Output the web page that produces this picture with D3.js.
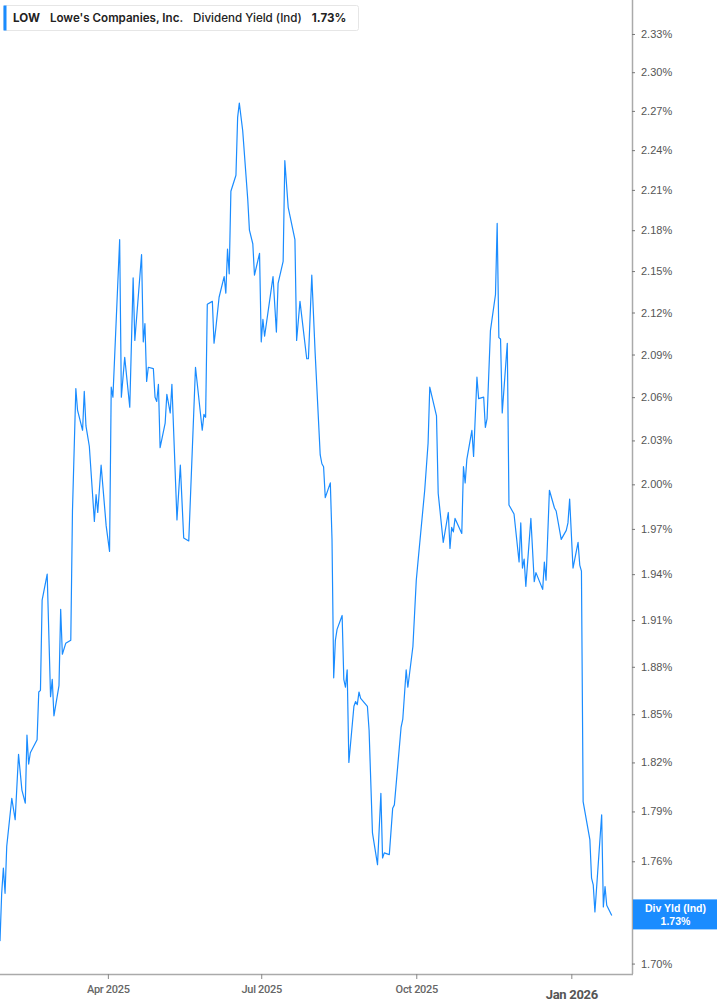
<!DOCTYPE html>
<html>
<head>
<meta charset="utf-8">
<script src="https://cdn.jsdelivr.net/npm/d3@7"></script>
<style>
  body { margin: 0; background: #fff; }
  svg { display: block; }
</style>
</head>
<body>
<script>
// LOW dividend yield (indicated), daily closes
const dates = [
  "2025-01-27","2025-01-28","2025-01-29","2025-01-30","2025-01-31","2025-02-03","2025-02-05","2025-02-07","2025-02-09","2025-02-11",
  "2025-02-12","2025-02-13","2025-02-14","2025-02-18","2025-02-19","2025-02-20","2025-02-21","2025-02-24","2025-02-26","2025-02-27",
  "2025-02-28","2025-03-03","2025-03-04","2025-03-05","2025-03-07","2025-03-10","2025-03-11","2025-03-13","2025-03-14","2025-03-17",
  "2025-03-18","2025-03-19","2025-03-21","2025-03-24","2025-03-25","2025-03-26","2025-03-28","2025-03-31","2025-04-02","2025-04-03",
  "2025-04-04","2025-04-08","2025-04-09","2025-04-11","2025-04-14","2025-04-16","2025-04-17","2025-04-21","2025-04-22","2025-04-23",
  "2025-04-24","2025-04-25","2025-04-28","2025-04-29","2025-04-30","2025-05-01","2025-05-02","2025-05-05","2025-05-06","2025-05-08",
  "2025-05-09","2025-05-12","2025-05-14","2025-05-16","2025-05-19","2025-05-23","2025-05-27","2025-05-28","2025-05-29","2025-05-30",
  "2025-06-02","2025-06-03","2025-06-04","2025-06-06","2025-06-09","2025-06-10","2025-06-11","2025-06-12","2025-06-13","2025-06-16",
  "2025-06-17","2025-06-18","2025-06-20","2025-06-23","2025-06-24","2025-06-26","2025-06-27","2025-06-30","2025-07-01","2025-07-02",
  "2025-07-03","2025-07-08","2025-07-10","2025-07-11","2025-07-14","2025-07-15","2025-07-17","2025-07-21","2025-07-22","2025-07-24",
  "2025-07-28","2025-07-29","2025-07-31","2025-08-02","2025-08-05","2025-08-06","2025-08-07","2025-08-08","2025-08-11","2025-08-12",
  "2025-08-13","2025-08-14","2025-08-15","2025-08-18","2025-08-19","2025-08-20","2025-08-21","2025-08-22","2025-08-25","2025-08-26",
  "2025-08-27","2025-08-28","2025-08-29","2025-09-02","2025-09-03","2025-09-05","2025-09-08","2025-09-10","2025-09-11","2025-09-12",
  "2025-09-15","2025-09-17","2025-09-18","2025-09-22","2025-09-23","2025-09-25","2025-09-26","2025-09-29","2025-10-01","2025-10-02",
  "2025-10-06","2025-10-08","2025-10-09","2025-10-13","2025-10-14","2025-10-15","2025-10-17","2025-10-20","2025-10-21","2025-10-22",
  "2025-10-23","2025-10-24","2025-10-28","2025-10-29","2025-10-30","2025-10-31","2025-11-03","2025-11-04","2025-11-06","2025-11-07",
  "2025-11-10","2025-11-11","2025-11-12","2025-11-14","2025-11-17","2025-11-18","2025-11-19","2025-11-20","2025-11-21","2025-11-24",
  "2025-11-25","2025-11-28","2025-12-01","2025-12-02","2025-12-03","2025-12-04","2025-12-05","2025-12-08","2025-12-10","2025-12-11",
  "2025-12-15","2025-12-16","2025-12-17","2025-12-19","2025-12-22","2025-12-23","2025-12-26","2025-12-29","2025-12-30","2025-12-31",
  "2026-01-02","2026-01-05","2026-01-06","2026-01-07","2026-01-08","2026-01-12","2026-01-13","2026-01-14","2026-01-15","2026-01-19",
  "2026-01-20","2026-01-21","2026-01-22","2026-01-25"
];

const yields = [
  1.713,1.741,1.756,1.741,1.769,1.798,1.785,1.825,1.803,1.795,
  1.837,1.819,1.826,1.834,1.864,1.865,1.923,1.940,1.861,1.872,
  1.849,1.868,1.917,1.888,1.895,1.897,1.982,2.066,2.051,2.037,
  2.064,2.040,2.026,1.975,1.993,1.981,2.013,1.972,1.955,2.067,
  2.060,2.173,2.060,2.088,2.053,2.145,2.100,2.162,2.099,2.112,
  2.071,2.081,2.080,2.060,2.057,2.069,2.025,2.042,2.062,2.049,
  2.069,1.976,2.013,1.964,1.962,2.081,2.037,2.048,2.046,2.126,
  2.128,2.098,2.108,2.131,2.146,2.134,2.166,2.148,2.209,2.221,
  2.265,2.276,2.255,2.203,2.180,2.170,2.147,2.163,2.099,2.115,
  2.103,2.146,2.106,2.141,2.157,2.232,2.197,2.173,2.100,2.128,
  2.087,2.087,2.147,2.091,2.020,2.014,2.012,1.991,2.001,1.963,
  1.873,1.897,1.904,1.913,1.872,1.867,1.878,1.820,1.855,1.858,
  1.856,1.864,1.860,1.855,1.840,1.777,1.758,1.801,1.762,1.765,
  1.764,1.792,1.794,1.842,1.847,1.878,1.867,1.893,1.936,1.948,
  1.996,2.028,2.067,2.047,1.994,1.983,1.961,1.981,1.957,1.971,
  1.968,1.977,1.967,2.012,2.001,2.017,2.037,2.019,2.074,2.059,
  2.060,2.039,2.045,2.107,2.133,2.185,2.102,2.101,2.049,2.098,
  1.986,1.980,1.948,1.974,1.944,1.950,1.932,1.977,1.935,1.941,
  1.930,1.948,1.936,1.996,1.984,1.982,1.963,1.969,1.974,1.990,
  1.944,1.961,1.946,1.942,1.796,1.773,1.750,1.746,1.730,1.788,
  1.733,1.745,1.734,1.728
];

const yTicks = [1.70, 1.73, 1.76, 1.79, 1.82, 1.85, 1.88, 1.91, 1.94, 1.97, 2.00,
  2.03, 2.06, 2.09, 2.12, 2.15, 2.18, 2.21, 2.24, 2.27, 2.30, 2.33];
const xTicks = ["2025-04-01", "2025-07-01", "2025-10-01", "2026-01-01"];

const ticker = "LOW";
const company = "Lowe's Companies, Inc.";
const metric = "Dividend Yield (Ind)";
const badgeLabel = "Div Yld (Ind)";

const w = 717;
const h = 1005;
const plotRight = 632;
const plotBottom = 974;

const parse = d3.timeParse("%Y-%m-%d");
const data = dates.map((d, i) => ({ date: parse(d), value: yields[i] }));
const last = data[data.length - 1];

const svg = d3
  .select("body")
  .append("svg")
  .attr("width", w)
  .attr("height", h);

const x = d3
  .scaleTime()
  .domain([parse("2025-01-27"), parse("2026-02-06")])
  .range([0, plotRight]);

// log scale, the tick gaps grow towards the bottom
const y = d3
  .scaleLog()
  .domain([1.694, 2.357])
  .range([plotBottom, 0]);

const badgeTop = y(last.value) - 16;
const badgeH = 30;

// axes
const yAxis = d3.axisRight(y)
  .tickValues(yTicks)
  .tickSize(3)
  .tickPadding(6)
  .tickFormat((d) => d.toFixed(2) + "%");

const gy = svg.append("g")
  .attr("transform", "translate(" + plotRight + ",0)")
  .call(yAxis);
gy.select(".domain").attr("stroke", "#aaa").attr("stroke-width", 1.5)
  .attr("d", "M0.5,0V" + plotBottom);
gy.selectAll(".tick line").attr("stroke", "#777");
gy.selectAll(".tick text")
  .attr("fill", "#555")
  .style("font-family", "Liberation Sans, Arial, sans-serif")
  .style("font-size", "11px");
// the badge covers whatever tick sits under it
gy.selectAll(".tick")
  .filter((d) => y(d) > badgeTop - 6 && y(d) < badgeTop + badgeH + 6)
  .remove();

const xAxis = d3.axisBottom(x)
  .tickValues(xTicks.map(parse))
  .tickSize(5)
  .tickPadding(6)
  .tickFormat(d3.timeFormat("%b %Y"));

const gx = svg.append("g")
  .attr("transform", "translate(0," + plotBottom + ")")
  .call(xAxis);
gx.select(".domain").attr("stroke", "#aaa").attr("stroke-width", 1.5)
  .attr("d", "M0,0.5H" + (plotRight + 1));
gx.selectAll(".tick line").attr("stroke", "#888");
gx.selectAll(".tick text")
  .attr("fill", "#666")
  .style("font-family", "Roboto, Liberation Sans, sans-serif")
  .style("font-size", "11px")
  .style("font-weight", "500")
  .style("letter-spacing", "-0.3px");
gx.selectAll(".tick text")
  .filter((d) => d.getMonth() === 0)
  .attr("fill", "#555")
  .attr("dy", "1.05em")
  .style("font-size", "13px")
  .style("font-weight", "bold");

// the series
const line = d3.line()
  .x((d) => x(d.date))
  .y((d) => y(d.value));

svg.append("path")
  .datum(data)
  .attr("fill", "none")
  .attr("stroke", "#1a8cff")
  .attr("stroke-width", 1.2)
  .attr("stroke-linejoin", "round")
  .attr("d", line);

// last value badge on the axis
const badge = svg.append("g")
  .attr("transform", "translate(" + (plotRight + 1) + "," + badgeTop + ")");
badge.append("rect")
  .attr("x", 0)
  .attr("y", 0)
  .attr("width", w - plotRight)
  .attr("height", badgeH)
  .attr("fill", "#1a8cff");
badge.append("text")
  .attr("x", (w - plotRight) / 2)
  .attr("y", 13)
  .attr("text-anchor", "middle")
  .attr("fill", "#fff")
  .style("font-family", "Liberation Sans, Arial, sans-serif")
  .style("font-size", "10.5px")
  .style("font-weight", "bold")
  .text(badgeLabel);
badge.append("text")
  .attr("x", (w - plotRight) / 2)
  .attr("y", 26)
  .attr("text-anchor", "middle")
  .attr("fill", "#fff")
  .style("font-family", "Liberation Sans, Arial, sans-serif")
  .style("font-size", "10.5px")
  .style("font-weight", "bold")
  .text(last.value.toFixed(2) + "%");

// legend box at the top
const legend = svg.append("g").attr("transform", "translate(3,5)");
legend.append("rect")
  .attr("x", 0.5)
  .attr("y", 0.5)
  .attr("width", 355)
  .attr("height", 25)
  .attr("rx", 2)
  .attr("fill", "#fff")
  .attr("stroke", "#e6e6e6");
legend.append("rect")
  .attr("x", 0.5)
  .attr("y", 0.5)
  .attr("width", 3)
  .attr("height", 25)
  .attr("fill", "#1a8cff");

const legendText = legend.append("text")
  .attr("x", 10)
  .attr("y", 17)
  .attr("fill", "#222")
  .style("font-family", "Inter, sans-serif")
  .style("font-size", "11.6px");
legendText.append("tspan").style("font-weight", "bold").text(ticker);
legendText.append("tspan").attr("dx", 10).style("font-weight", "600").text(company);
legendText.append("tspan").attr("dx", 10).style("font-weight", "500").text(metric);
legendText.append("tspan").attr("dx", 10).style("font-weight", "bold")
  .text(last.value.toFixed(2) + "%");
</script>
</body>
</html>
